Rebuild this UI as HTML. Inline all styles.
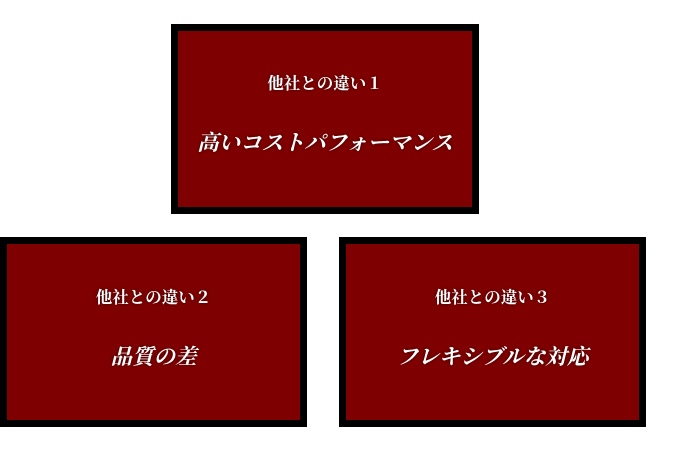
<html><head><style>
body{margin:0;width:680px;height:450px;background:#fff;position:relative;overflow:hidden;font-family:"Liberation Serif","Noto Serif CJK SC",serif;}
.b{position:absolute;box-sizing:border-box;border:7px solid #000;background:#7f0000;color:#fff;font-weight:bold;text-align:center;text-shadow:0 0 3px #300;}
.t{position:absolute;left:0;right:0;font-size:16.5px;line-height:20px;}
.m{position:absolute;left:0;right:0;font-size:21.5px;line-height:26px;font-style:italic;}
</style></head><body>
<div class="b" style="left:171px;top:24px;width:308px;height:190px"><div class="t" style="top:43px">他社との違い１</div><div class="m" style="top:99px">高いコストパフォーマンス</div></div>
<div class="b" style="left:0;top:237px;width:307px;height:190px"><div class="t" style="top:44px">他社との違い２</div><div class="m" style="top:100px">品質の差</div></div>
<div class="b" style="left:339px;top:237px;width:307px;height:190px"><div class="t" style="top:44px">他社との違い３</div><div class="m" style="top:100px">フレキシブルな対応</div></div>
</body></html>
